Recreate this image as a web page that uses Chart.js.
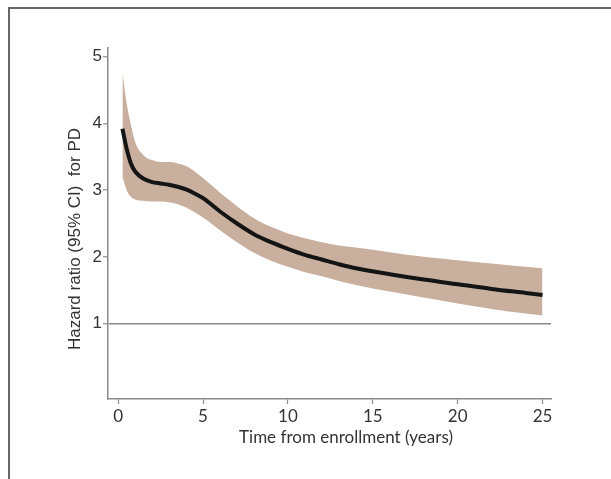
<!DOCTYPE html>
<html>
<head>
<meta charset="utf-8">
<script src="https://cdn.jsdelivr.net/npm/chart.js@4.4.1/dist/chart.umd.min.js"></script>
<style>
  html, body { margin: 0; padding: 0; background: #fff; }
  #wrap { position: relative; width: 611px; height: 479px; }
  #frame { position: absolute; left: 8px; top: 7px; right: 0; bottom: 0;
           border-top: 2px solid #666; border-left: 2px solid #666; }
  #hrChart { position: absolute; left: 0; top: 0; }
</style>
</head>
<body>
<div id="wrap">
  <div id="frame"></div>
  <canvas id="hrChart" width="611" height="479"></canvas>
</div>
<script>
// Hazard ratio for PD over time from enrollment, with 95% CI band
var years = [0.25, 0.5, 0.75, 1, 1.5, 2, 2.5, 3, 3.5, 4, 4.5, 5, 6, 7, 8, 9, 10, 11, 12, 13, 14, 16, 18, 20, 22, 24, 25];
var hazardRatio = [3.92, 3.62, 3.40, 3.28, 3.17, 3.12, 3.10, 3.08, 3.05, 3.01, 2.95, 2.88, 2.68, 2.50, 2.34, 2.22, 2.12, 2.03, 1.96, 1.89, 1.83, 1.74, 1.66, 1.59, 1.52, 1.46, 1.43];
var ciUpper = [4.76, 4.30, 3.98, 3.72, 3.52, 3.45, 3.42, 3.42, 3.40, 3.36, 3.28, 3.18, 2.96, 2.76, 2.58, 2.45, 2.35, 2.28, 2.22, 2.17, 2.14, 2.07, 2.00, 1.95, 1.90, 1.85, 1.83];
var ciLower = [3.20, 3.00, 2.90, 2.86, 2.84, 2.83, 2.83, 2.82, 2.79, 2.74, 2.67, 2.59, 2.40, 2.22, 2.06, 1.94, 1.85, 1.77, 1.71, 1.64, 1.58, 1.48, 1.39, 1.30, 1.22, 1.15, 1.12];
var xTicks = [0, 5, 10, 15, 20, 25];
var yTicks = [1, 2, 3, 4, 5];
var xTitle = 'Time from enrollment (years)';
var yTitle = 'Hazard ratio (95% CI)  for PD';

function toPoints(vals) {
    return years.map(function(t, i) { return { x: t, y: vals[i] }; });
}

// axis titles drawn by hand so they sit where the original has them
var titlePlugin = {
    id: 'axisTitles',
    afterDraw: function(chart) {
        var ctx = chart.ctx;
        var area = chart.chartArea;
        ctx.save();
        ctx.fillStyle = '#333';
        ctx.textAlign = 'center';
        ctx.textBaseline = 'middle';
        ctx.font = '17px Lato, "Liberation Sans", sans-serif';
        ctx.fillText(xTitle, area.left + 238, area.bottom + 39);
        ctx.translate(area.left - 33, area.top + 191);
        ctx.rotate(-Math.PI / 2);
        ctx.font = '17px "Liberation Sans", Arial, sans-serif';
        ctx.fillText(yTitle, 0, 0);
        ctx.restore();
    }
};

var ctx = document.getElementById('hrChart').getContext('2d');
var chart = new Chart(ctx, {
    type: 'line',
    data: {
        datasets: [
            {
                label: 'HR',
                data: toPoints(hazardRatio),
                borderColor: '#141414',
                borderWidth: 4,
                pointRadius: 0,
                cubicInterpolationMode: 'monotone',
                fill: false,
                order: 0
            },
            {
                label: 'upper',
                data: toPoints(ciUpper),
                borderWidth: 0,
                borderColor: 'rgba(0,0,0,0)',
                backgroundColor: '#c9af9e',
                pointRadius: 0,
                cubicInterpolationMode: 'monotone',
                fill: '+1',
                order: 1
            },
            {
                label: 'lower',
                data: toPoints(ciLower),
                borderWidth: 0,
                borderColor: 'rgba(0,0,0,0)',
                pointRadius: 0,
                cubicInterpolationMode: 'monotone',
                fill: false,
                order: 2
            }
        ]
    },
    options: {
        responsive: false,
        animation: false,
        devicePixelRatio: 1,
        layout: { padding: { left: 0, right: 60, top: 48, bottom: 0 } },
        plugins: {
            legend: { display: false },
            tooltip: { enabled: false }
        },
        scales: {
            x: {
                type: 'linear',
                min: -0.6,
                max: 25.5,
                afterBuildTicks: function(scale) {
                    scale.ticks = xTicks.map(function(v) { return { value: v }; });
                },
                afterFit: function(scale) { scale.height = 80; },
                border: { color: '#8a8a8a', width: 1.5 },
                grid: { drawOnChartArea: false, tickLength: 5, tickColor: '#8a8a8a', tickWidth: 1.2 },
                ticks: {
                    padding: 2,
                    color: '#333',
                    font: { family: 'Lato, "Liberation Sans", sans-serif', size: 17 }
                }
            },
            y: {
                min: -0.13,
                max: 5.13,
                afterBuildTicks: function(scale) {
                    scale.ticks = yTicks.map(function(v) { return { value: v }; });
                },
                afterFit: function(scale) { scale.width = 108; },
                border: { color: '#8a8a8a', width: 1.5 },
                grid: {
                    tickLength: 5,
                    tickWidth: 1.2,
                    tickColor: '#8a8a8a',
                    lineWidth: 1.5,
                    // only the reference line at HR = 1
                    color: function(c) { return c.tick && c.tick.value === 1 ? '#8a8a8a' : 'rgba(0,0,0,0)'; }
                },
                ticks: {
                    padding: 1,
                    color: '#333',
                    font: { family: '"Liberation Sans", Arial, sans-serif', size: 17 }
                }
            }
        }
    },
    plugins: [titlePlugin]
});
</script>
</body>
</html>
